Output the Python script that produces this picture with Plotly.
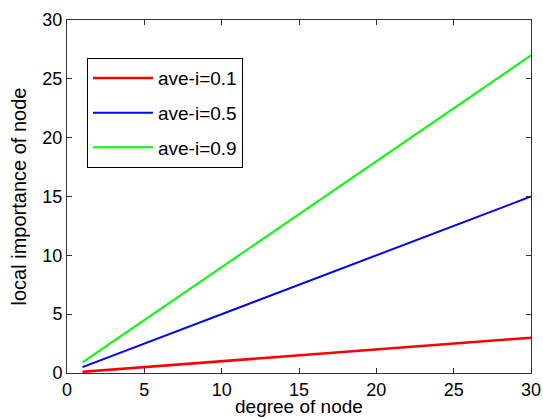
import plotly.graph_objects as go

degree = [1, 5, 10, 15, 20, 25, 30]
imp_01 = [0.1, 0.5, 1.0, 1.5, 2.0, 2.5, 3.0]
imp_05 = [0.5, 2.5, 5.0, 7.5, 10.0, 12.5, 15.0]
imp_09 = [0.9, 4.5, 9.0, 13.5, 18.0, 22.5, 27.0]
names = ["ave-i=0.1", "ave-i=0.5", "ave-i=0.9"]
colors = ["#ff0000", "#0000ff", "#00ff00"]
widths = [2.6, 2, 2]
x_ticks = [0, 5, 10, 15, 20, 25, 30]
y_ticks = [0, 5, 10, 15, 20, 25, 30]

FONT = "Liberation Sans, Arial"

fig = go.Figure()
for i, (ys, nm, c, w) in enumerate(zip([imp_01, imp_05, imp_09], names, colors, widths)):
    fig.add_trace(go.Scatter(x=degree, y=ys, mode="lines", name=nm,
                             line=dict(color=c, width=w), legendgroup=str(i)))

axis_common = dict(showline=True, linecolor="#333333", linewidth=1, mirror="ticks",
                   ticks="inside", ticklen=5, tickcolor="#333333", showgrid=False,
                   zeroline=False, automargin=False,
                   tickfont=dict(family=FONT, size=18, color="#000"))
fig.update_xaxes(range=[0, 30], tickvals=x_ticks, **axis_common)
fig.update_yaxes(range=[0, 30], tickvals=y_ticks, title=dict(text="local importance of node", standoff=10,
                 font=dict(family=FONT, size=20, color="#000")), **axis_common)

fig.add_annotation(text="degree of node", xref="paper", yref="paper", x=0.5, y=0,
                   xanchor="center", yanchor="bottom", yshift=-46, showarrow=False,
                   font=dict(family=FONT, size=19, color="#000"))

fig.update_layout(
    width=543, height=419,
    margin=dict(l=67, r=12, t=20, b=46),
    paper_bgcolor="white", plot_bgcolor="white",
    legend=dict(x=0.043, y=0.892, xanchor="left", yanchor="top",
                bordercolor="#000", borderwidth=1, bgcolor="white",
                font=dict(family=FONT, size=19, color="#000"),
                tracegroupgap=7, itemwidth=60),
)
fig.write_html("out.html", config={"displayModeBar": False},
               post_script="document.body.style.margin='0';document.body.style.padding='0';")
